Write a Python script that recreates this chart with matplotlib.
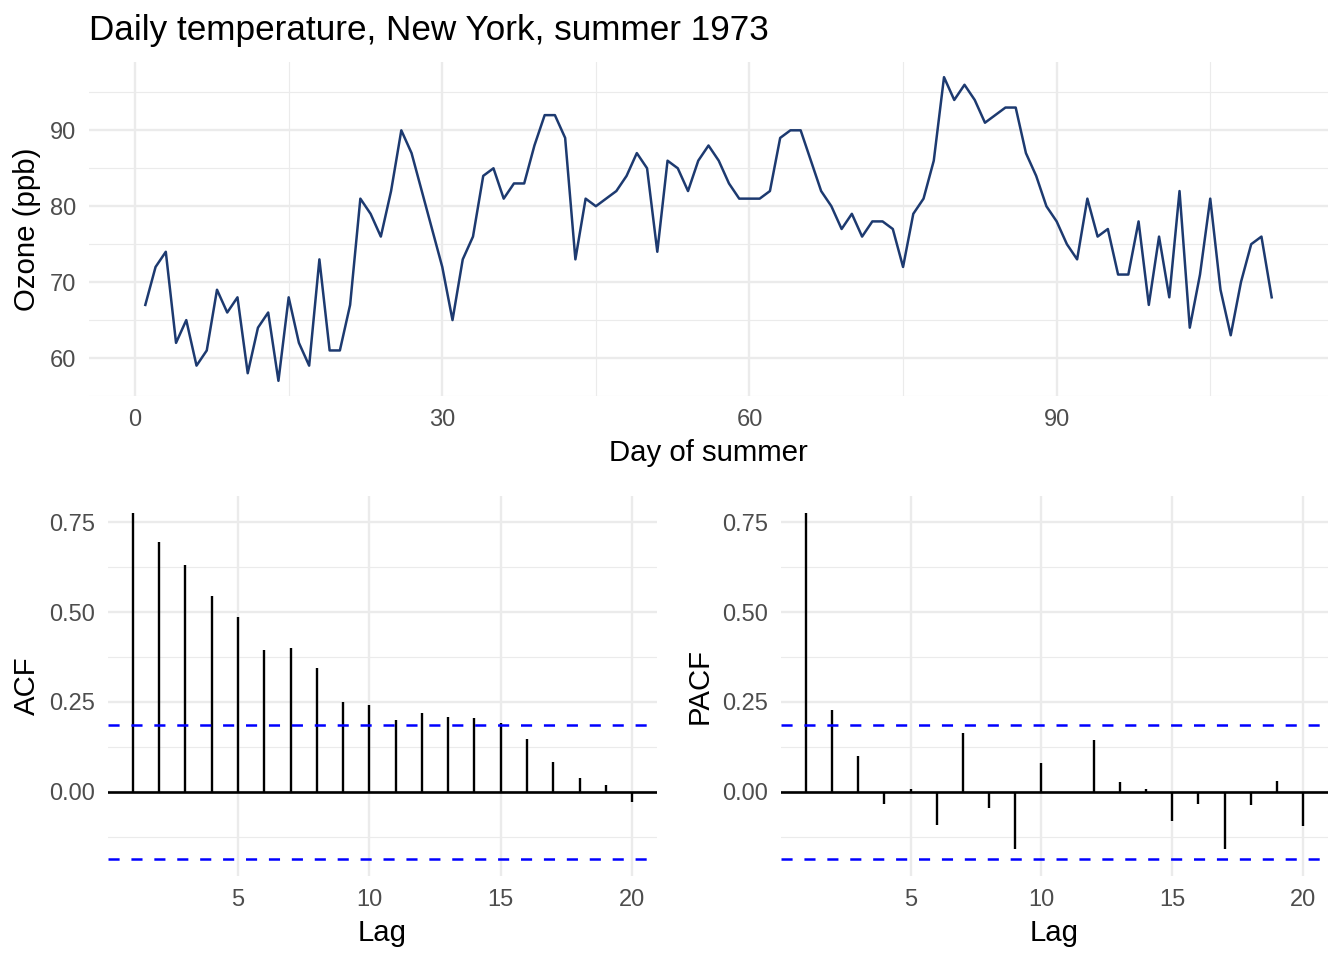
import numpy as np
import matplotlib
matplotlib.use("Agg")
import matplotlib.pyplot as plt
from matplotlib.ticker import FixedLocator

# daily temperatures (complete days only)
temp = [67, 72, 74, 62, 65, 59, 61, 69, 66, 68, 58, 64, 66, 57, 68, 62, 59, 73, 61, 61,
        67, 81, 79, 76, 82, 90, 87, 82, 77, 72, 65, 73, 76, 84, 85, 81, 83, 83, 88, 92,
        92, 89, 73, 81, 80, 81, 82, 84, 87, 85, 74, 86, 85, 82, 86, 88, 86, 83, 81, 81,
        81, 82, 89, 90, 90, 86, 82, 80, 77, 79, 76, 78, 78, 77, 72, 79, 81, 86, 97, 94,
        96, 94, 91, 92, 93, 93, 87, 84, 80, 78, 75, 73, 81, 76, 77, 71, 71, 78, 67, 76,
        68, 82, 64, 71, 81, 69, 63, 70, 75, 76, 68]
days = np.arange(1, len(temp) + 1)

lags = np.arange(1, 21)
acf_vals = [0.776, 0.694, 0.631, 0.546, 0.487, 0.396, 0.401, 0.345, 0.249, 0.241,
            0.200, 0.219, 0.207, 0.205, 0.191, 0.147, 0.084, 0.038, 0.020, -0.029]
pacf_vals = [0.776, 0.229, 0.101, -0.034, 0.007, -0.091, 0.164, -0.045, -0.158, 0.079,
             -0.004, 0.144, 0.028, 0.009, -0.082, -0.034, -0.160, -0.036, 0.031, -0.094]
ci = 0.186

W, H = 1344, 960
plt.rcParams['font.family'] = ['Liberation Sans', 'DejaVu Sans']
plt.rcParams['lines.scale_dashes'] = False

fig = plt.figure(figsize=(W / 100, H / 100), dpi=100)

grid_col = "#EBEBEB"
tick_col = "#4D4D4D"
tick_fs = 17
lab_fs = 21.2


def box(l, t, r, b):
    return [l / W, 1 - b / H, (r - l) / W, (b - t) / H]


def style(ax):
    for s in ax.spines.values():
        s.set_visible(False)
    ax.tick_params(which="both", length=0, pad=9.5, labelsize=tick_fs, colors=tick_col)
    ax.grid(which="major", color=grid_col, linewidth=1.7)
    ax.grid(which="minor", color=grid_col, linewidth=0.85)
    ax.set_axisbelow(True)


# top: time series
ax = fig.add_axes(box(89, 62, 1328, 396))
ax.plot(days, temp, color="#1d3a70", linewidth=1.8)
ax.set_xlim(-4.5, 116.5)
ax.set_ylim(55, 99)
ax.xaxis.set_major_locator(FixedLocator([0, 30, 60, 90]))
ax.xaxis.set_minor_locator(FixedLocator([15, 45, 75, 105]))
ax.yaxis.set_major_locator(FixedLocator([60, 70, 80, 90]))
ax.yaxis.set_minor_locator(FixedLocator([55, 65, 75, 85, 95]))
style(ax)
ax.set_xlabel("Day of summer", fontsize=lab_fs, labelpad=5.5)
ax.set_ylabel("Ozone (ppb)", fontsize=lab_fs, labelpad=6)
fig.text(89 / W, 1 - 40 / H, "Daily temperature, New York, summer 1973",
         fontsize=25.3, va="baseline", ha="left")


def corr_panel(pos, vals, ylab):
    a = fig.add_axes(box(*pos))
    a.vlines(lags, 0, vals, color="black", linewidth=1.7)
    a.axhline(0, color="black", linewidth=1.9)
    a.axhline(ci, color="#0000FF", linewidth=1.8, linestyle=(0, (8, 8.5)))
    a.axhline(-ci, color="#0000FF", linewidth=1.8, linestyle=(0, (8, 8.5)))
    a.set_xlim(0.05, 20.95)
    a.set_ylim(-0.234, 0.823)
    a.xaxis.set_major_locator(FixedLocator([5, 10, 15, 20]))
    a.xaxis.set_minor_locator(FixedLocator([]))
    a.yaxis.set_major_locator(FixedLocator([0, 0.25, 0.5, 0.75]))
    a.yaxis.set_minor_locator(FixedLocator([-0.125, 0.125, 0.375, 0.625]))
    a.set_yticklabels(["0.00", "0.25", "0.50", "0.75"])
    style(a)
    a.set_xlabel("Lag", fontsize=lab_fs, labelpad=5.5)
    a.set_ylabel(ylab, fontsize=lab_fs, labelpad=6)
    return a


corr_panel((108, 496, 657, 876), acf_vals, "ACF")
corr_panel((781, 496, 1328, 876), pacf_vals, "PACF")

fig.savefig("out.png", dpi=100)
